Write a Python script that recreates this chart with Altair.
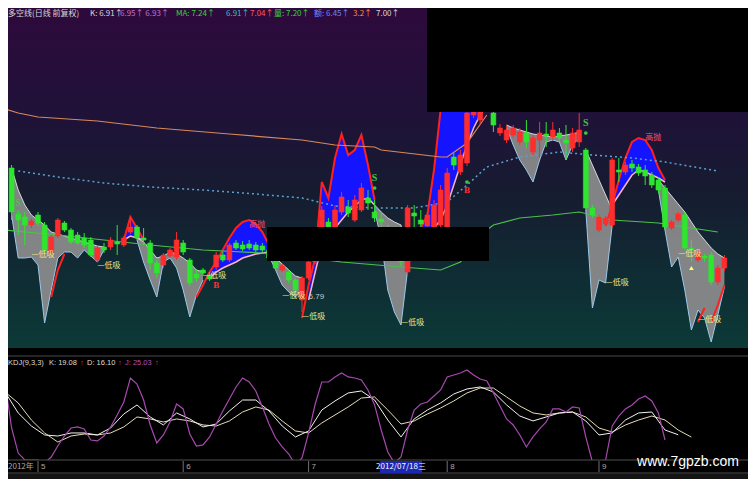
import altair as alt
import pandas as pd

# ---------------- candles (trading-day index 0..109) ----------------
open_ = [7.52, 7.51, 7.28, 7.265, 7.225, 7.275, 7.225, 7.085, 7.17, 7.235,
         7.20, 7.175, 7.16, 7.15, 7.05, 7.115, 7.115, 7.14, 7.125, 7.19,
         7.215, 7.16, 7.135, 7.035, 7.025, 7.07, 7.065, 7.135, 7.05, 6.98,
         7.00, 6.975, 7.015, 7.075, 7.05, 7.135, 7.125, 7.13, 7.125, 7.12,
         7.10, 7.06, 7.00, 6.99, 6.95, 6.85, 6.96, 7.04, 7.21, 7.24,
         7.215, 7.29, 7.315, 7.25, 7.30, 7.36, 7.29, 7.255, 7.21, 7.15,
         7.07, 6.99, 7.285, 7.25, 7.22, 7.21, 7.225, 7.20, 7.565, 7.49,
         7.535, 7.775, 7.75, 7.81, 7.785, 7.685, 7.65, 7.675, 7.64, 7.685,
         7.59, 7.65, 7.68, 7.665, 7.685, 7.65, 7.61, 7.64, 7.60, 7.31,
         7.20, 7.23, 7.225, 7.50, 7.49, 7.53, 7.515, 7.50, 7.475, 7.45,
         7.41, 7.21, 7.25, 7.275, 7.11, 7.05, 7.07, 7.075, 6.94, 7.01]
close_ = [7.61, 7.29, 7.25, 7.225, 7.245, 7.235, 7.10, 7.165, 7.25, 7.20,
          7.14, 7.135, 7.125, 7.075, 7.11, 7.10, 7.15, 7.13, 7.16, 7.215,
          7.16, 7.15, 7.035, 6.985, 7.075, 7.10, 7.15, 7.09, 6.935, 6.96,
          6.985, 6.955, 7.075, 7.05, 7.125, 7.11, 7.105, 7.11, 7.10, 7.10,
          7.06, 7.01, 7.02, 6.95, 6.90, 6.96, 7.04, 7.15, 7.30, 7.21,
          7.30, 7.365, 7.285, 7.35, 7.41, 7.335, 7.26, 7.24, 7.15, 7.10,
          7.04, 7.31, 7.27, 7.23, 7.275, 7.325, 7.40, 7.485, 7.525, 7.575,
          7.785, 7.85, 7.85, 7.89, 7.725, 7.71, 7.70, 7.71, 7.69, 7.64,
          7.66, 7.685, 7.67, 7.70, 7.66, 7.635, 7.685, 7.70, 7.31, 7.275,
          7.265, 7.26, 7.55, 7.49, 7.525, 7.51, 7.485, 7.47, 7.425, 7.40,
          7.215, 7.24, 7.28, 7.11, 7.10, 7.085, 7.06, 6.94, 7.01, 7.06]
high_ = [7.65, 7.525, 7.30, 7.29, 7.255, 7.29, 7.24, 7.175, 7.26, 7.245,
         7.21, 7.19, 7.185, 7.165, 7.125, 7.135, 7.165, 7.225, 7.17, 7.265,
         7.225, 7.21, 7.15, 7.05, 7.085, 7.11, 7.19, 7.15, 7.06, 7.00,
         7.01, 6.99, 7.09, 7.09, 7.135, 7.15, 7.145, 7.15, 7.14, 7.135,
         7.11, 7.075, 7.03, 7.00, 6.96, 6.97, 7.06, 7.16, 7.32, 7.26,
         7.325, 7.39, 7.35, 7.375, 7.435, 7.40, 7.35, 7.29, 7.225, 7.17,
         7.10, 7.325, 7.325, 7.30, 7.29, 7.35, 7.425, 7.51, 7.585, 7.60,
         7.81, 7.875, 7.87, 7.91, 7.825, 7.73, 7.72, 7.725, 7.71, 7.75,
         7.675, 7.74, 7.74, 7.74, 7.71, 7.725, 7.71, 7.785, 7.61, 7.325,
         7.275, 7.27, 7.56, 7.56, 7.54, 7.55, 7.53, 7.525, 7.49, 7.465,
         7.425, 7.25, 7.29, 7.29, 7.15, 7.10, 7.08, 7.09, 7.025, 7.075]
low_ = [7.50, 7.25, 7.175, 7.125, 7.21, 7.22, 7.085, 7.07, 7.16, 7.19,
        7.13, 7.125, 7.11, 7.065, 7.04, 7.085, 7.10, 7.075, 7.115, 7.18,
        7.15, 7.125, 7.00, 6.96, 7.01, 7.06, 7.05, 7.075, 6.92, 6.94,
        6.97, 6.945, 7.00, 7.04, 7.04, 7.10, 7.095, 7.10, 7.09, 7.09,
        7.05, 7.00, 6.99, 6.935, 6.885, 6.79, 6.95, 7.03, 7.15, 7.19,
        7.20, 7.275, 7.265, 7.24, 7.29, 7.30, 7.24, 7.21, 7.135, 7.075,
        7.02, 6.97, 7.21, 7.20, 7.19, 7.19, 7.21, 7.125, 7.50, 7.475,
        7.52, 7.76, 7.73, 7.79, 7.69, 7.67, 7.635, 7.66, 7.625, 7.61,
        7.575, 7.56, 7.615, 7.65, 7.64, 7.55, 7.59, 7.615, 7.30, 7.26,
        7.19, 7.22, 7.215, 7.44, 7.475, 7.49, 7.47, 7.425, 7.41, 7.385,
        7.20, 7.20, 7.24, 7.10, 7.04, 7.04, 7.04, 6.925, 6.925, 6.995]

# ---------------- indicator bands ----------------
gray_start = [1, 20, 40, 56, 76, 88, 99]
gray_top = [
    [7.51, 7.40, 7.325, 7.275, 7.25, 7.225, 7.19, 7.18, 7.17, 7.16, 7.15, 7.14, 7.13, 7.12, 7.115],
    [7.16, 7.14, 7.10, 7.06, 7.07, 7.09, 7.08, 7.06, 7.035, 7.00, 6.99],
    [7.09, 7.06, 7.03, 7.00, 6.97, 6.96],
    [7.325, 7.29, 7.26, 7.24, 7.225, 7.04],
    [7.725, 7.71, 7.70, 7.69, 7.68, 7.675, 7.67, 7.665, 7.67, 7.675, 7.68, 7.69],
    [7.60, 7.525, 7.45, 7.375, 7.30],
    [7.45, 7.41, 7.37, 7.33, 7.29, 7.24, 7.19, 7.15, 7.11, 7.08, 7.06]]
gray_bot = [
    [7.275, 7.06, 7.06, 7.065, 7.025, 6.735, 6.90, 7.06, 7.09, 7.09, 7.06, 7.10, 7.07, 7.04, 7.10],
    [7.15, 7.04, 6.95, 6.865, 7.04, 7.06, 7.01, 6.90, 6.765, 6.875, 6.95],
    [7.07, 7.00, 6.925, 6.89, 6.865, 6.90],
    [7.30, 7.15, 6.90, 6.79, 6.725, 7.00],
    [7.71, 7.625, 7.55, 7.50, 7.44, 7.55, 7.64, 7.65, 7.64, 7.55, 7.625, 7.66],
    [7.30, 6.81, 6.95, 6.935, 7.225],
    [7.40, 7.20, 7.015, 7.065, 6.90, 6.70, 6.80, 6.76, 6.64, 6.775, 6.915]]

blue_start = [18, 31, 46, 63, 92]
blue_top = [
    [7.15, 7.265, 7.21, 7.15],
    [6.99, 7.04, 7.10, 7.16, 7.21, 7.24, 7.25, 7.23, 7.19, 7.125],
    [6.925, 7.06, 7.44, 7.36, 7.56, 7.68, 7.575, 7.60, 7.675, 7.525, 7.35],
    [7.21, 7.275, 7.50, 7.80, 7.90, 7.95, 8.00, 8.05, 8.05, 8.05, 8.05, 7.95],
    [7.325, 7.45, 7.56, 7.64, 7.66, 7.65, 7.60, 7.51, 7.45]]
blue_bot = [
    [7.15, 7.17, 7.16, 7.15],
    [6.96, 6.99, 7.01, 7.025, 7.04, 7.06, 7.07, 7.08, 7.085, 7.09],
    [6.85, 6.99, 7.125, 7.16, 7.21, 7.25, 7.29, 7.32, 7.35, 7.36, 7.325],
    [7.20, 7.20, 7.21, 7.25, 7.325, 7.425, 7.525, 7.625, 7.71, 7.775, 7.825, 7.85],
    [7.325, 7.375, 7.425, 7.475, 7.50, 7.49, 7.475, 7.46, 7.44]]

red_start = [7, 29, 45, 91, 105, 107]
red_vals = [[6.865, 7.00, 7.08], [6.865, 6.925, 6.99], [6.76, 6.925],
            [7.22, 7.325], [6.74, 6.81], [6.74, 6.825, 6.925]]

# ---------------- moving-average style lines ----------------
orange_i = [0, 2, 5, 14, 23, 34, 45, 50, 56, 57, 66, 67, 70, 73]
orange_p = [7.805, 7.785, 7.765, 7.745, 7.71, 7.68, 7.65, 7.625, 7.615, 7.60, 7.565, 7.565, 7.635, 7.775]
dotted_i = [2, 8, 15, 22, 30, 38, 45, 50, 56, 62, 67, 70, 73, 78, 84, 89, 95, 100, 108]
dotted_p = [7.495, 7.465, 7.435, 7.415, 7.40, 7.38, 7.36, 7.32, 7.31, 7.31, 7.34, 7.425, 7.515,
            7.565, 7.59, 7.575, 7.56, 7.54, 7.495]
green_i = [0, 8, 15, 22, 30, 39, 45, 51, 60, 66, 69, 73, 74, 78, 83, 87, 89, 92, 99, 108]
green_p = [7.20, 7.175, 7.15, 7.125, 7.10, 7.085, 7.065, 7.04, 7.015, 7.00, 7.04, 7.20, 7.225,
           7.26, 7.275, 7.29, 7.275, 7.25, 7.235, 7.19]

# ---------------- signal labels ----------------
dixi_i = [4, 14, 30, 42, 45, 60, 91, 102, 105]
dixi_p = [7.075, 7.02, 6.97, 6.87, 6.765, 6.735, 6.935, 7.08, 6.75]
gaopao_i = [37, 97]
gaopao_p = [7.225, 7.66]
s_i = [2, 56, 88]
s_p = [7.335, 7.46, 7.735]
s_dot = [7.285, 7.41, 7.685]
b_i = [70, 32]
b_p = [7.40, 6.925]
b_dot_i = [70]
b_dot_p = [7.44]
low_label_i = [46]
low_label_p = [6.865]
low_label_t = ["6.79"]
arrow_i = [104]
arrow_p = [7.01]

# ---------------- KDJ(9,3,3) ----------------
j_vals = [85, 27.5, -3.8, -12.5, -12.5, -12.5, -16.3, -8.8, 5, 17.5,
          27.5, 28.8, 26.3, 12.5, 11.3, 17.5, 28.8, 43.8, 60, 90,
          82.5, 62.5, 31.3, 8.8, 18.8, 35, 57.5, 51.3, 20, 5,
          6.3, 16.3, 32.5, 48.8, 63.8, 78.8, 90, 85, 73.8, 53.8,
          32.5, 15, 3.8, -5, -18.8, -10, 21.3, 57.5, 85, 85,
          91.3, 96.3, 91.3, 90, 87.5, 75, 56.3, 25, -2.5, -16.3,
          -8.8, 25, 50, 57.5, 60, 67.5, 75, 91.3, 93.8, 96.3,
          100, 93.8, 88.8, 86.3, 71.3, 55, 38.8, 31.3, 18.8, 3.8,
          16.3, 26.3, 35, 51.3, 51.3, 47.5, 53.8, 52.5, 16.3, -15,
          -13.8, -12.5, 30, 42.5, 51.3, 56.3, 63.8, 67.5, 61.3, 46.3,
          12.5]
k_vals = [72.5, 46.3, 30, 18.8, 17.5, 21.3, 21.3, 18.8, 27.5, 45,
          56.3, 41.3, 31.3, 46.3, 38.8, 28.8, 32.5, 48.8, 62.5, 62.5,
          48.8, 30, 16.3, 23.8, 50, 61.3, 71.3, 73.8, 62.5, 37.5,
          16.3, 38.8, 50, 58.8, 70, 76.3, 78.8, 72.5, 56.3, 42.5,
          36.3, 41.3, 46.3, 47.5, 36.3, 18.8, 21.3, 37.5, 46.3, 47.5,
          25, 19.1]
d_vals = [72.5, 58.8, 37.5, 21.3, 10, 17.5, 20, 18.8, 21.3, 28.8,
          41.3, 38.8, 35, 38.8, 36.3, 31.3, 30, 36.3, 47.5, 53.8,
          50, 36.3, 23.8, 21.3, 33.8, 43.8, 53.8, 65, 66.3, 50,
          32.5, 36.3, 45, 52.5, 61.3, 71.3, 77.5, 77.5, 66.3, 55,
          46.3, 43.8, 46.3, 47.5, 41.3, 27.5, 22.5, 31.3, 37.5, 42.5,
          37.5, 25, 16.1]

# ---------------- axis / header texts ----------------
month_i = [5, 27, 46, 67, 90]
month_t = ["5", "6", "7", "8", "9"]
cursor_i = [60]
cursor_t = ["2012/07/18三"]
title_t = ["多空线(日线 前复权)", "K: 6.91↑", "6.95↑  6.93↑", "MA: 7.24↑", "6.91↑", "7.04↑",
           "量: 7.20↑", "额: 6.45↑", "3.2↑", "7.00↑"]
title_x = [0, 82, 112, 168, 218, 242, 266, 306, 345, 368]
title_c = ["#d8d8d8", "#d8d8d8", "#c070d0", "#3cd23c", "#40b8c8", "#ff5a5a",
           "#3cd23c", "#6a86ff", "#ff8c3c", "#d8d8d8"]
kdj_t = ["KDJ(9,3,3)", "K: 19.08", "↑", "D: 16.10", "↑", "J: 25.03", "↑"]
kdj_x = [0, 41, 72, 79, 110, 117, 147]
kdj_c = ["#dcdcdc", "#dcdcdc", "#ff3030", "#dcdcdc", "#ff3030", "#b050c0", "#ff3030"]

# ================= build tables =================
N = len(open_)
cdf = pd.DataFrame(dict(i=list(range(N)), o=open_, c=close_, h=high_, l=low_))
cdf["dir"] = ["up" if c >= o else "down" for o, c in zip(open_, close_)]


def seg_table(starts, tops, bots=None):
    rows = []
    for s, (st, tp) in enumerate(zip(starts, tops)):
        for k, t in enumerate(tp):
            r = dict(seg=s, i=st + k, top=t)
            if bots is not None:
                r["bot"] = bots[s][k]
            rows.append(r)
    return pd.DataFrame(rows)


gray_df = seg_table(gray_start, gray_top, gray_bot)
blue_df = seg_table(blue_start, blue_top, blue_bot)
red_df = seg_table(red_start, red_vals)

W, H, TOP_H = 740, 471, 340
XDOM = [0.4545, 112.5758]
PDOM = [5.955, 8.31]
KDOM = [-36.25, 552.5]
one = pd.DataFrame({"d": [0]})


def X(f="i"):
    return alt.X(f"{f}:Q", scale=alt.Scale(domain=XDOM, nice=False, zero=False), axis=None)


def PX(f="x"):
    return alt.X(f"{f}:Q", scale=alt.Scale(domain=[0, W], range=[0, W], nice=False, zero=False), axis=None)


def P(f):
    return alt.Y(f"{f}:Q", scale=alt.Scale(domain=PDOM, nice=False, zero=False), axis=None)


def K(f):
    return alt.Y(f"{f}:Q", scale=alt.Scale(domain=KDOM, nice=False, zero=False), axis=None)


layers = []

# background gradient of the price panel
grad = alt.Gradient(gradient="linear",
                    stops=[alt.GradientStop(color="#2e0a3c", offset=0),
                           alt.GradientStop(color="#1f1238", offset=0.32),
                           alt.GradientStop(color="#161c30", offset=0.55),
                           alt.GradientStop(color="#0f2d34", offset=0.8),
                           alt.GradientStop(color="#0c3a37", offset=1)],
                    x1=0, x2=0, y1=0, y2=1)
layers.append(alt.Chart(one).mark_rect(color=grad).encode(
    x=alt.value(0), x2=alt.value(W), y=alt.value(0), y2=alt.value(TOP_H)))

# bands
layers.append(alt.Chart(gray_df).mark_area(color="#8c8c8c", opacity=0.92).encode(
    x=X(), y=P("top"), y2="bot:Q", detail="seg:N"))
layers.append(alt.Chart(blue_df).mark_area(color="#1414ff", opacity=1).encode(
    x=X(), y=P("top"), y2="bot:Q", detail="seg:N"))
layers.append(alt.Chart(gray_df).mark_line(color="#d8d8d8", strokeWidth=1).encode(
    x=X(), y=P("top"), detail="seg:N"))
layers.append(alt.Chart(gray_df).mark_line(color="#9cc8e8", strokeWidth=1).encode(
    x=X(), y=P("bot"), detail="seg:N"))
layers.append(alt.Chart(blue_df).mark_line(color="#ffb6c8", strokeWidth=1.5).encode(
    x=X(), y=P("bot"), detail="seg:N"))
layers.append(alt.Chart(blue_df).mark_line(color="#ff2020", strokeWidth=2).encode(
    x=X(), y=P("top"), detail="seg:N"))
layers.append(alt.Chart(red_df).mark_line(color="#ff2020", strokeWidth=2).encode(
    x=X(), y=P("top"), detail="seg:N"))

# lines
layers.append(alt.Chart(pd.DataFrame(dict(i=orange_i, p=orange_p))).mark_line(
    color="#d9885a", strokeWidth=1.2).encode(x=X(), y=P("p")))
layers.append(alt.Chart(pd.DataFrame(dict(i=dotted_i, p=dotted_p))).mark_line(
    color="#5aa0d0", strokeWidth=1.5, strokeDash=[2, 3]).encode(x=X(), y=P("p")))
layers.append(alt.Chart(pd.DataFrame(dict(i=green_i, p=green_p))).mark_line(
    color="#4cc04c", strokeWidth=1.2).encode(x=X(), y=P("p")))

# candles
cscale = alt.Scale(domain=["up", "down"], range=["#ff2d2d", "#2ee62e"])
layers.append(alt.Chart(cdf).mark_rule(strokeWidth=1).encode(
    x=X(), y=P("l"), y2="h:Q", color=alt.Color("dir:N", scale=cscale, legend=None)))
layers.append(alt.Chart(cdf).transform_calculate(
    x1="datum.i - 0.37", x2="datum.i + 0.37").mark_rect(strokeWidth=0.6).encode(
    x=X("x1"), x2="x2:Q", y=P("o"), y2="c:Q",
    color=alt.Color("dir:N", scale=cscale, legend=None),
    stroke=alt.Stroke("dir:N", scale=cscale, legend=None)))

# signal labels
cjk = "Noto Sans CJK SC"
layers.append(alt.Chart(pd.DataFrame(dict(i=dixi_i, p=dixi_p, t=["—低吸"] * len(dixi_i)))).mark_text(
    align="left", baseline="middle", font=cjk, fontSize=8, color="#f0e68c").encode(
    x=X(), y=P("p"), text="t:N"))
layers.append(alt.Chart(pd.DataFrame(dict(i=gaopao_i, p=gaopao_p, t=["高抛"] * len(gaopao_i)))).mark_text(
    align="left", baseline="middle", font=cjk, fontSize=8, color="#ff5070").encode(
    x=X(), y=P("p"), text="t:N"))
layers.append(alt.Chart(pd.DataFrame(dict(i=low_label_i, p=low_label_p, t=low_label_t))).mark_text(
    align="left", baseline="middle", font="Liberation Sans", fontSize=8, color="#c8c8c8").encode(
    x=X(), y=P("p"), text="t:N"))
layers.append(alt.Chart(pd.DataFrame(dict(i=s_i, p=s_p, t=["S"] * len(s_i)))).mark_text(
    align="center", baseline="middle", font="Liberation Serif", fontSize=10, fontWeight="bold",
    color="#3cc83c").encode(x=X(), y=P("p"), text="t:N"))
layers.append(alt.Chart(pd.DataFrame(dict(i=s_i + b_dot_i, p=s_dot + b_dot_p))).mark_point(
    filled=True, size=14, color="#3cc83c", opacity=1).encode(x=X(), y=P("p")))
layers.append(alt.Chart(pd.DataFrame(dict(i=b_i, p=b_p, t=["B"] * len(b_i)))).mark_text(
    align="center", baseline="middle", font="Liberation Serif", fontSize=9, fontWeight="bold",
    color="#ff3030").encode(x=X(), y=P("p"), text="t:N"))
layers.append(alt.Chart(pd.DataFrame(dict(i=arrow_i, p=arrow_p))).mark_point(
    shape="triangle-up", filled=True, size=22, color="#ffff70", opacity=1).encode(x=X(), y=P("p")))

# redaction boxes
layers.append(alt.Chart(one).mark_rect(color="#000000").encode(
    x=alt.value(419), x2=alt.value(W), y=alt.value(0), y2=alt.value(104)))
layers.append(alt.Chart(one).mark_rect(color="#000000").encode(
    x=alt.value(259), x2=alt.value(481), y=alt.value(219), y2=alt.value(253)))

# title row
layers.append(alt.Chart(pd.DataFrame(dict(t=title_t, x=title_x, c=title_c))).mark_text(
    align="left", baseline="middle", font=cjk, fontSize=8).encode(
    x=PX(), y=alt.value(6), text="t:N", color=alt.Color("c:N", scale=None)))

# separator of the KDJ panel
layers.append(alt.Chart(one).mark_rule(color="#4a4a4a", strokeWidth=1).encode(
    x=alt.value(0), x2=alt.value(W), y=alt.value(348)))

# KDJ lines
layers.append(alt.Chart(pd.DataFrame(dict(i=list(range(0, 2 * len(d_vals), 2)), v=d_vals))).mark_line(
    color="#e6dcb4", strokeWidth=1).encode(x=X(), y=K("v")))
layers.append(alt.Chart(pd.DataFrame(dict(i=list(range(0, 2 * len(k_vals), 2)), v=k_vals))).mark_line(
    color="#f2f2f2", strokeWidth=1).encode(x=X(), y=K("v")))
layers.append(alt.Chart(pd.DataFrame(dict(i=list(range(len(j_vals))), v=j_vals))).mark_line(
    color="#a848b0", strokeWidth=1.2).encode(x=X(), y=K("v")))

# KDJ header
layers.append(alt.Chart(pd.DataFrame(dict(t=kdj_t, x=kdj_x, c=kdj_c))).mark_text(
    align="left", baseline="middle", font="Liberation Sans", fontSize=7.5).encode(
    x=PX(), y=alt.value(355), text="t:N", color=alt.Color("c:N", scale=None)))

# date axis strip
layers.append(alt.Chart(one).mark_rect(color="#000000", stroke="#505050", strokeWidth=1).encode(
    x=alt.value(-2), x2=alt.value(W + 2), y=alt.value(452), y2=alt.value(465)))
layers.append(alt.Chart(one).mark_rect(color="#141414").encode(
    x=alt.value(0), x2=alt.value(W), y=alt.value(466), y2=alt.value(H)))
layers.append(alt.Chart(pd.DataFrame(dict(i=month_i))).mark_rule(color="#707070").encode(
    x=X(), y=alt.value(453), y2=alt.value(464)))
layers.append(alt.Chart(pd.DataFrame(dict(i=month_i, t=month_t))).mark_text(
    align="left", baseline="middle", dx=3, font="Liberation Sans", fontSize=8, color="#a8a8a8").encode(
    x=X(), y=alt.value(459), text="t:N"))
layers.append(alt.Chart(pd.DataFrame(dict(t=["2012年"]))).mark_text(
    align="left", baseline="middle", font=cjk, fontSize=8, color="#a8a8a8").encode(
    x=alt.value(0), y=alt.value(459), text="t:N"))
layers.append(alt.Chart(pd.DataFrame(dict(i=cursor_i))).transform_calculate(
    a="datum.i - 3.2", b="datum.i + 3.2").mark_rect(color="#1c28b4").encode(
    x=X("a"), x2="b:Q", y=alt.value(453), y2=alt.value(465)))
layers.append(alt.Chart(pd.DataFrame(dict(i=cursor_i, t=cursor_t))).mark_text(
    align="center", baseline="middle", font=cjk, fontSize=8, color="#ffffff").encode(
    x=X(), y=alt.value(459), text="t:N"))

# watermark
layers.append(alt.Chart(pd.DataFrame(dict(t=["www.7gpzb.com"]))).mark_text(
    align="center", baseline="middle", font="Liberation Sans", fontSize=14, color="#ffffff").encode(
    x=alt.value(680), y=alt.value(454), text="t:N"))

chart = alt.layer(*layers).resolve_scale(x="independent", y="independent").properties(
    width=W, height=H, padding=0, background="#000000",
    autosize=alt.AutoSizeParams(type="none")
).configure_view(stroke=None)

chart.save("out.html", embed_options={"renderer": "svg", "actions": False})
